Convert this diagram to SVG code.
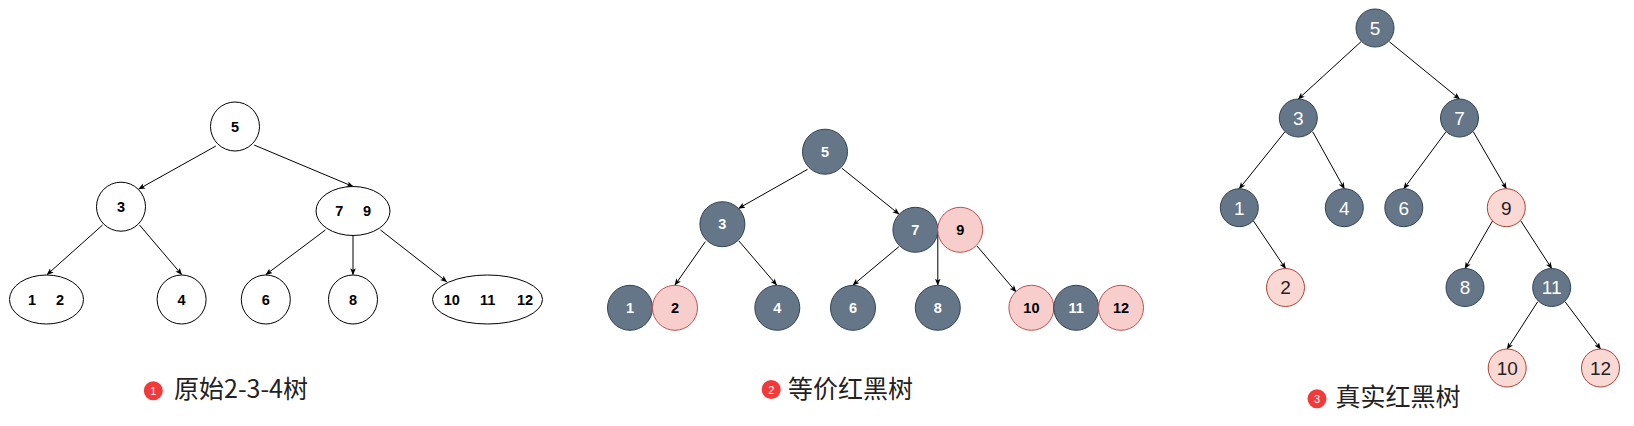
<svg xmlns="http://www.w3.org/2000/svg" width="1634" height="426" viewBox="0 0 1634 426">
<defs>
<marker id="arr" viewBox="0 0 10 8" refX="9" refY="4" markerWidth="7" markerHeight="6" markerUnits="userSpaceOnUse" orient="auto">
<path d="M0,0 L10,4 L0,8 L2.5,4 z" fill="#000"/>
</marker>
<style>
.w{fill:#fff;stroke:#000;stroke-width:1}
.dk{fill:#647687;stroke:#314354;stroke-width:1}
.pk{fill:#f8cecc;stroke:#b85450;stroke-width:1}
.pk3{fill:#fad9d5;stroke:#ae4132;stroke-width:1}
.e{fill:none;stroke:#000;stroke-width:1;marker-end:url(#arr)}
.t{font-family:"Liberation Sans",Arial,sans-serif;font-size:14.5px;font-weight:bold;text-anchor:middle;fill:#000}
.tw{fill:#fff}
.t3{font-family:"Liberation Sans",Arial,sans-serif;font-size:19px;text-anchor:middle;fill:#fff}
.t3b{fill:#222}
.cap{font-family:"Noto Sans CJK SC","Noto Sans",sans-serif;font-size:25px;fill:#222}
.badge{fill:#f23a3a}
.bt{font-family:"Liberation Sans",Arial,sans-serif;font-size:11px;text-anchor:middle;fill:#fff}
</style>
</defs>
<rect width="1634" height="426" fill="#fff"/>

<g id="edges">
<!-- panel 1 -->
<line class="e" x1="215.9" y1="146" x2="138.8" y2="189"/>
<line class="e" x1="254.1" y1="145" x2="353" y2="186.5"/>
<line class="e" x1="102.6" y1="225" x2="47.2" y2="274.5"/>
<line class="e" x1="139.5" y1="225" x2="181.6" y2="274.5"/>
<line class="e" x1="325.4" y1="230" x2="266" y2="274.5"/>
<line class="e" x1="353" y1="235.5" x2="353" y2="274.5"/>
<line class="e" x1="380.5" y1="230" x2="446.7" y2="281.7"/>
<!-- panel 2 -->
<line class="e" x1="807.6" y1="169.3" x2="738.7" y2="208.3"/>
<line class="e" x1="842" y1="168.3" x2="898.9" y2="214"/>
<line class="e" x1="705.3" y1="241.7" x2="675" y2="285"/>
<line class="e" x1="738.7" y1="240.7" x2="776.6" y2="285"/>
<line class="e" x1="898.9" y1="246.7" x2="853" y2="285"/>
<line class="e" x1="937.8" y1="230" x2="937.8" y2="285"/>
<line class="e" x1="977" y1="246" x2="1015.9" y2="291.7"/>
<!-- panel 3 -->
<line class="e" x1="1361" y1="41.7" x2="1298.3" y2="99"/>
<line class="e" x1="1389.3" y1="41.7" x2="1459.5" y2="99"/>
<line class="e" x1="1285" y1="131.7" x2="1239.3" y2="188.7"/>
<line class="e" x1="1312.7" y1="131.7" x2="1344.3" y2="188.7"/>
<line class="e" x1="1446" y1="131.7" x2="1403.8" y2="188.7"/>
<line class="e" x1="1473.3" y1="131.7" x2="1506.3" y2="188.7"/>
<line class="e" x1="1253.3" y1="220.7" x2="1285.5" y2="268.5"/>
<line class="e" x1="1492.7" y1="220.7" x2="1465" y2="268.5"/>
<line class="e" x1="1520.7" y1="220.7" x2="1551.7" y2="268.5"/>
<line class="e" x1="1537.7" y1="301.7" x2="1507.2" y2="349"/>
<line class="e" x1="1565" y1="301.7" x2="1600.5" y2="349"/>
</g>

<!-- Panel 1: original 2-3-4 tree -->
<g id="p1-n5"><circle class="w" cx="235" cy="126.5" r="24.5"/><text class="t" x="235" y="131.7">5</text></g>
<g id="p1-n3"><circle class="w" cx="121" cy="206.7" r="24.5"/><text class="t" x="121" y="211.9">3</text></g>
<g id="p1-n79"><ellipse class="w" cx="353" cy="211" rx="37" ry="24.5"/><text class="t" x="339.2" y="216.2">7</text><text class="t" x="367.1" y="216.2">9</text></g>
<g id="p1-n12"><ellipse class="w" cx="46.5" cy="299.5" rx="37" ry="24.5"/><text class="t" x="32" y="304.7">1</text><text class="t" x="60" y="304.7">2</text></g>
<g id="p1-n4"><circle class="w" cx="181.6" cy="299.5" r="24.5"/><text class="t" x="181.6" y="304.7">4</text></g>
<g id="p1-n6"><circle class="w" cx="265.8" cy="299.5" r="24.5"/><text class="t" x="265.8" y="304.7">6</text></g>
<g id="p1-n8"><circle class="w" cx="353" cy="299.5" r="24.5"/><text class="t" x="353" y="304.7">8</text></g>
<g id="p1-n101112"><ellipse class="w" cx="487.5" cy="299.5" rx="55" ry="24.5"/><text class="t" x="451.7" y="304.7">10</text><text class="t" x="487.7" y="304.7">11</text><text class="t" x="525" y="304.7">12</text></g>
<g id="cap1"><circle class="badge" cx="153.3" cy="390.8" r="9.5"/><text class="bt" x="153.3" y="394.8">1</text><text class="cap" x="174" y="398">原始2-3-4树</text></g>

<!-- Panel 2: equivalent red-black tree -->
<g id="p2-n5"><circle class="dk" cx="825" cy="151.7" r="22.5"/><text class="t tw" x="825" y="156.9">5</text></g>
<g id="p2-n3"><circle class="dk" cx="722.4" cy="224.2" r="22.5"/><text class="t tw" x="722.4" y="229.4">3</text></g>
<g id="p2-n7"><circle class="dk" cx="915.4" cy="229.8" r="22.5"/><text class="t tw" x="915.4" y="235">7</text></g>
<g id="p2-n9"><circle class="pk" cx="960.2" cy="229.8" r="22.5"/><text class="t" x="960.2" y="235">9</text></g>
<g id="p2-n1"><circle class="dk" cx="630" cy="307.8" r="22.5"/><text class="t tw" x="630" y="313">1</text></g>
<g id="p2-n2"><circle class="pk" cx="675" cy="307.8" r="22.5"/><text class="t" x="675" y="313">2</text></g>
<g id="p2-n4"><circle class="dk" cx="777.3" cy="307.8" r="22.5"/><text class="t tw" x="777.3" y="313">4</text></g>
<g id="p2-n6"><circle class="dk" cx="853" cy="307.8" r="22.5"/><text class="t tw" x="853" y="313">6</text></g>
<g id="p2-n8"><circle class="dk" cx="937.8" cy="307.8" r="22.5"/><text class="t tw" x="937.8" y="313">8</text></g>
<g id="p2-n10"><circle class="pk" cx="1031.4" cy="307.8" r="22.5"/><text class="t" x="1031.4" y="313">10</text></g>
<g id="p2-n11"><circle class="dk" cx="1076.2" cy="307.8" r="22.5"/><text class="t tw" x="1076.2" y="313">11</text></g>
<g id="p2-n12"><circle class="pk" cx="1121" cy="307.8" r="22.5"/><text class="t" x="1121" y="313">12</text></g>
<g id="cap2"><circle class="badge" cx="771.2" cy="389.5" r="9.5"/><text class="bt" x="771.2" y="393.5">2</text><text class="cap" x="788" y="398">等价红黑树</text></g>

<!-- Panel 3: real red-black tree -->
<g id="p3-n5"><circle class="dk" cx="1375" cy="28" r="19"/><text class="t3" x="1375" y="34.8">5</text></g>
<g id="p3-n3"><circle class="dk" cx="1298.3" cy="118" r="19"/><text class="t3" x="1298.3" y="124.8">3</text></g>
<g id="p3-n7"><circle class="dk" cx="1459.5" cy="118" r="19"/><text class="t3" x="1459.5" y="124.8">7</text></g>
<g id="p3-n1"><circle class="dk" cx="1239.3" cy="207.7" r="19"/><text class="t3" x="1239.3" y="214.5">1</text></g>
<g id="p3-n4"><circle class="dk" cx="1344.3" cy="207.7" r="19"/><text class="t3" x="1344.3" y="214.5">4</text></g>
<g id="p3-n6"><circle class="dk" cx="1403.8" cy="207.7" r="19"/><text class="t3" x="1403.8" y="214.5">6</text></g>
<g id="p3-n9"><circle class="pk3" cx="1506.3" cy="207.7" r="19"/><text class="t3 t3b" x="1506.3" y="214.5">9</text></g>
<g id="p3-n2"><circle class="pk3" cx="1285.5" cy="287.5" r="19"/><text class="t3 t3b" x="1285.5" y="294.3">2</text></g>
<g id="p3-n8"><circle class="dk" cx="1465" cy="287.5" r="19"/><text class="t3" x="1465" y="294.3">8</text></g>
<g id="p3-n11"><circle class="dk" cx="1551.7" cy="287.5" r="19"/><text class="t3" x="1551.7" y="294.3">11</text></g>
<g id="p3-n10"><circle class="pk3" cx="1507.2" cy="368" r="19"/><text class="t3 t3b" x="1507.2" y="374.8">10</text></g>
<g id="p3-n12"><circle class="pk3" cx="1600.5" cy="368" r="19"/><text class="t3 t3b" x="1600.5" y="374.8">12</text></g>
<g id="cap3"><circle class="badge" cx="1317" cy="398.8" r="9.5"/><text class="bt" x="1317" y="402.8">3</text><text class="cap" x="1335.5" y="406">真实红黑树</text></g>
</svg>
